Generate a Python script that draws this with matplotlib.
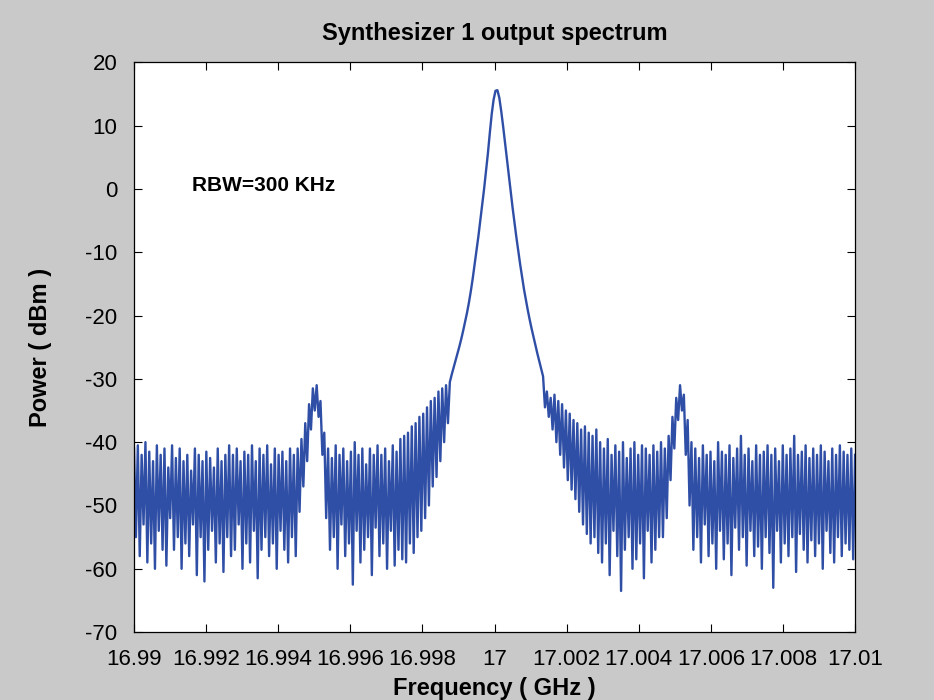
import numpy as np
import matplotlib.pyplot as plt

plt.rcParams['font.family'] = ['Liberation Sans', 'DejaVu Sans']
plt.rcParams['axes.unicode_minus'] = False

# sweep range (GHz)
f_start = 16.99
f_stop = 17.01

# measured power (dBm), read off the trace from left to right
# left noise floor
noise_left = [
    -41, -55, -40.5, -58, -42, -53, -40, -59, -41.5, -56,
    -43, -60, -40.5, -54, -42, -57, -41, -59.5, -44, -52,
    -40.5, -57, -42.5, -55, -41, -60, -43, -56, -42, -58,
    -44.5, -53, -41, -61, -42, -55, -43, -62, -41.5, -57,
    -42.5, -54, -44, -59, -41, -56, -43, -60.5, -42, -55,
    -40.5, -58, -42, -57, -41, -53, -43, -60, -41.5, -56,
    -42, -59, -40.5, -54, -43, -61.5, -41, -57, -42, -55,
    -40.5, -58, -43.5, -56, -41, -60, -42, -54, -41.5, -57,
    -43, -59, -41, -55, -42, -58, -41,
]
# lower spur near 16.995 GHz
spur_left = [-51, -39.5, -47, -37, -43, -34, -38, -31.5, -35, -31,
             -36, -33.5, -42, -38.5, -52]
# floor between spur and carrier, rising into the carrier skirt
noise_mid_left = [
    -41, -57, -42.5, -55, -40.5, -60, -42, -53, -41, -58,
    -43, -56, -41.5, -62.5, -40, -54, -42, -59, -41, -57,
    -43.5, -55, -41, -61, -42, -53.5, -40.5, -58, -42, -56,
    -41, -60, -43, -54, -40.5, -59.5, -41.5, -57, -39.5, -58.5,
    -39, -59, -38.5, -56, -37.5, -57.5, -37, -55, -36, -54,
    -35.5, -52, -34.5, -50, -33.5, -47, -33, -45.5, -32, -43,
    -31.5, -40, -31, -37,
]
# carrier
carrier = [
    -30.5, -29.3, -28.2, -27.1, -26, -24.9, -23.7, -22.4, -21, -19.6,
    -18, -16.2, -14.2, -12, -9.8, -7.5, -5, -2.5, 0, 2.8,
    5.6, 8.8, 11.8, 14.1, 15.5, 15.6, 14.4, 12.3, 9.9, 7.3,
    4.6, 2, -0.6, -3, -5.4, -7.7, -9.9, -12, -14, -15.9,
    -17.6, -19.2, -20.7, -22.1, -23.4, -24.7, -26, -27.2, -28.4, -29.6,
]
# floor between carrier and upper spur
noise_mid_right = [
    -34.5, -32, -36, -33, -38, -32.5, -40, -33.5,
    -42, -34, -44, -35, -46, -35.5, -47.5, -36.5, -49, -37,
    -51, -38, -53, -37.5, -54.5, -38.5, -56, -39, -55, -38,
    -57.5, -40, -59, -41, -56, -39.5, -61, -42, -54, -40.5,
    -58, -41.5, -63.5, -40, -57, -42.5, -55, -41, -60, -40,
    -58.5, -42, -56, -40.5, -61.5, -41, -54, -42, -59, -40.5,
    -57, -41.5, -55, -40,
]
# upper spur near 17.005 GHz
spur_right = [-55, -41, -52, -39, -46, -36, -41, -33, -36.5, -31,
              -35, -32.5, -42, -36.5, -50, -40]
# right noise floor
noise_right = [
    -57, -41, -55, -42.5, -59, -40.5, -53, -42, -58, -41.5,
    -56, -43, -60, -40, -54, -41.5, -58.5, -42, -56, -40.5,
    -61, -42.5, -53.5, -41, -57, -39, -55, -42, -59.5, -41,
    -54, -43, -58, -40.5, -56.5, -42, -60, -41.5, -55, -40.5,
    -57.5, -42, -63, -41, -54, -43, -59, -40.5, -56, -42,
    -58, -41, -55, -39, -60.5, -42, -54.5, -41.5, -57, -40.5,
    -59, -42.5, -55.5, -41, -58, -42, -56, -40.5, -60, -41.5,
    -54, -43, -57.5, -41, -59, -42, -55, -40.5, -58, -41.5,
    -56, -42, -57, -41, -58.5, -42,
]

power = np.array(noise_left + spur_left + noise_mid_left + carrier
                 + noise_mid_right + spur_right + noise_right)
freq = np.linspace(f_start, f_stop, len(power))

xticks = [16.99, 16.992, 16.994, 16.996, 16.998, 17, 17.002, 17.004, 17.006, 17.008, 17.01]
xticklabels = ['16.99', '16.992', '16.994', '16.996', '16.998', '17',
               '17.002', '17.004', '17.006', '17.008', '17.01']
yticks = [-70, -60, -50, -40, -30, -20, -10, 0, 10, 20]

fig = plt.figure(figsize=(9.34, 7.0), dpi=100, facecolor='#c9c9c9')
ax = fig.add_axes([0.1435, 0.097, 0.772, 0.814])
ax.set_facecolor('white')

ax.plot(freq, power, color='#2f4ea6', lw=1.7)

ax.set_xlim(f_start, f_stop)
ax.set_ylim(-70, 20)
ax.set_xticks(xticks)
ax.set_xticklabels(xticklabels)
ax.set_yticks(yticks)
ax.tick_params(direction='in', length=6, width=0.8, top=True, right=True,
               labelsize=16, pad=12)
for s in ax.spines.values():
    s.set_linewidth(0.9)

ax.set_title('Synthesizer 1 output spectrum', fontsize=17, fontweight='bold', pad=16)
ax.set_xlabel('Frequency ( GHz )', fontsize=17, fontweight='bold', labelpad=5)
ax.set_ylabel('Power ( dBm )', fontsize=17, fontweight='bold', labelpad=24)

ax.text(16.9916, 0.5, 'RBW=300 KHz', fontsize=15, fontweight='bold', va='center')

fig.savefig('out.png', dpi=100, facecolor=fig.get_facecolor())
